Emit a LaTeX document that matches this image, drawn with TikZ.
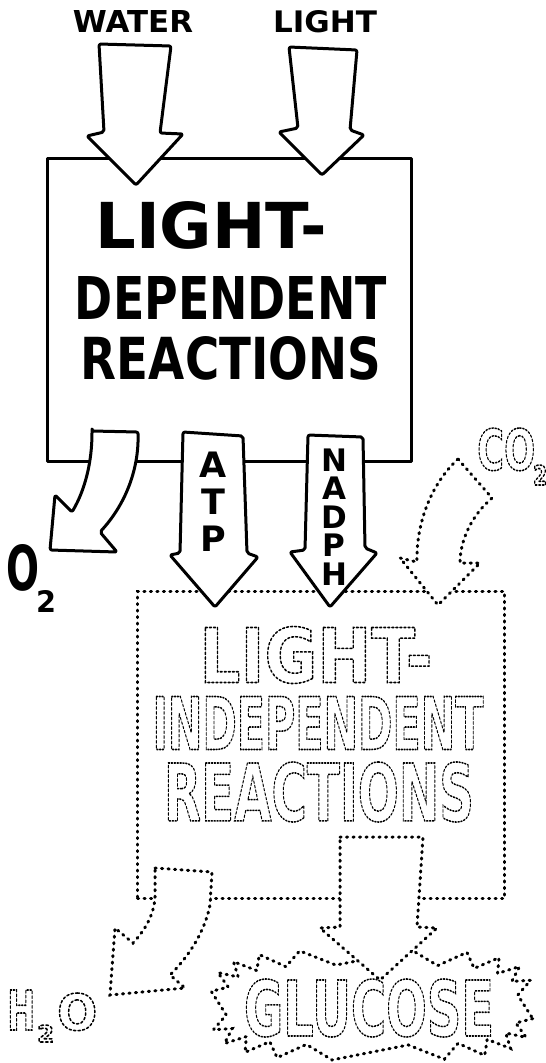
\documentclass[tikz,border=0pt]{standalone}
\usepackage{graphicx}
\usepackage{fontspec}
\setmainfont{DejaVu Sans}

% letters squeezed to a given box (width, cap height)
\newcommand{\fitcaps}[3]{{\fontsize{\the\dimexpr #2pt*137/100\relax}{0pt}\selectfont\resizebox{#1pt}{#2pt}{#3}}}
% dotted outline letters
\newcommand{\hollow}[1]{\special{pdf:code q 1 Tr 1.6 w [2.4 2.4] 0 d 1 J}#1\special{pdf:code Q}}

\begin{document}
\begin{tikzpicture}[
    x=1pt, y=-1pt,
    inkbox/.style={draw, line width=3pt, fill=white, line join=round, rounded corners=2pt},
    dotline/.style={draw, line width=3pt, dash pattern=on 1.2pt off 5.3pt, line cap=round, fill=white},
    stack/.style={inner sep=0pt, align=center, font=\bfseries},
]
    \path[fill=white, use as bounding box] (0,0) rectangle (546,1063);

    % Light-dependent stage
    \node[inkbox, rounded corners=0pt, anchor=north west, minimum width=364pt, minimum height=303pt] (ldbox) at (46,157) {};

    \draw[inkbox] (99,44) -- (171,46) -- (160,133) -- (183,134) -- (136,185) -- (87,136) -- (104,132) -- cycle;
    \draw[inkbox] (289,47) -- (357,50) -- (350,130) -- (364,135) -- (322,175) -- (279,132) -- (298,128) -- cycle;

    \node[inner sep=0pt] (water) at (133,21) {\bfseries\fitcaps{120}{22}{WATER}};
    \node[inner sep=0pt] (light) at (325,22) {\bfseries\fitcaps{104}{22}{LIGHT}};

    \node[inner sep=0pt] (ldtop) at (211,225) {\bfseries\fitcaps{231}{47}{LIGHT-}};
    \node[inner sep=0pt] (ldmid) at (231,298) {\bfseries\fitcaps{312}{43}{DEPENDENT}};
    \node[inner sep=0pt] (ldbot) at (231,358) {\bfseries\fitcaps{300}{43}{REACTIONS}};

    % Light-independent stage
    \node[dotline, anchor=north west, minimum width=367pt, minimum height=307pt] (libox) at (136,590) {};
    \draw[dotline] plot[samples at={0,1,...,39}]
        ({372+(161-15*mod(\x,2))*sign(cos(9*\x+4.5))*pow(abs(cos(9*\x+4.5)),0.55)},
         {1005+(55-15*mod(\x,2))*sign(sin(9*\x+4.5))*pow(abs(sin(9*\x+4.5)),0.55)}) -- cycle;

    % outputs of the first stage
    \draw[inkbox] (92,431) -- (138,432) .. controls (139,470) and (125,505) .. (100,532) -- (117,552)
        -- (50,550) -- (55,495) -- (72,512) .. controls (85,490) and (92,462) .. (92,431) -- cycle;
    \draw[inkbox] (183,432) -- (243,436) -- (247,553) -- (258,557) -- (215,607) -- (170,555) -- (180,553) -- cycle;
    \draw[inkbox] (308,435) -- (363,437) -- (365,548) -- (377,553) -- (330,607) -- (290,552) -- (305,550) -- cycle;

    \draw[dotline] (458,459) -- (492,498) .. controls (472,515) and (460,540) .. (460,563) -- (480,563)
        -- (438,605) -- (400,558) -- (417,562) .. controls (416,525) and (430,485) .. (458,459) -- cycle;

    % outputs of the second stage
    \draw[dotline] (340,837) -- (423,837) -- (417,927) -- (437,928) -- (380,980) -- (320,928) -- (340,927) -- cycle;
    \draw[dotline] (155,868) -- (212,872) -- (210,905) .. controls (206,925) and (195,950) .. (170,975) -- (185,988)
        -- (110,995) -- (115,928) -- (133,943) .. controls (145,930) and (154,915) .. (155,897) -- cycle;

    % labels
    \node[stack, font=\bfseries\fontsize{35}{37}\selectfont] (atp) at (213,502) {A\\T\\P};
    \node[stack, font=\bfseries\fontsize{31}{28.5}\selectfont] (nadph) at (334,517) {N\\A\\D\\P\\H};

    \node[inner sep=0pt, anchor=base west] (otwo) at (6,590)
        {\bfseries\fitcaps{33}{46}{O}\kern-3pt\raisebox{-22pt}{\fitcaps{20}{22}{2}}};

    \node[inner sep=0pt, anchor=base west] (cotwo) at (477,470)
        {\bfseries\hollow{\fitcaps{58}{42}{CO}}\kern-2pt\raisebox{-15pt}{\hollow{\fitcaps{14}{20}{2}}}};

    \node[inner sep=0pt] (litop) at (316,655) {\bfseries\hollow{\fitcaps{233}{56}{LIGHT-}}};
    \node[inner sep=0pt] (limid) at (318,723) {\bfseries\hollow{\fitcaps{331}{53}{INDEPENDENT}}};
    \node[inner sep=0pt] (libot) at (319,792) {\bfseries\hollow{\fitcaps{310}{59}{REACTIONS}}};

    \node[inner sep=0pt] (glucose) at (369,1008) {\bfseries\hollow{\fitcaps{250}{57}{GLUCOSE}}};

    \node[inner sep=0pt, anchor=base west] (htwoo) at (7,1030)
        {\bfseries\hollow{\fitcaps{28}{40}{H}}\kern2pt\raisebox{-12pt}{\hollow{\fitcaps{17}{17}{2}}}\kern3pt\hollow{\fitcaps{40}{37}{O}}};
\end{tikzpicture}
\end{document}
